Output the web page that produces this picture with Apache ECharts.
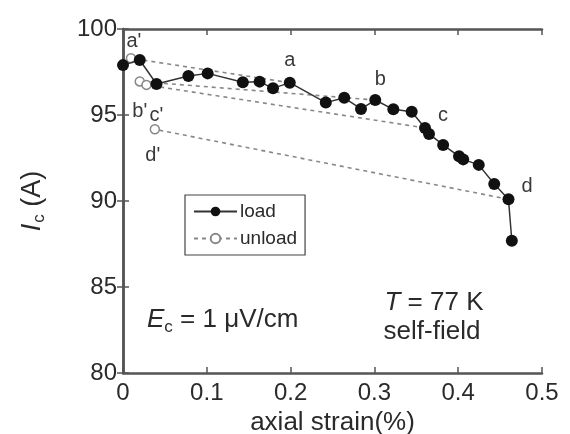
<!DOCTYPE html>
<html>
<head>
<meta charset="utf-8">
<script src="https://cdn.jsdelivr.net/npm/echarts@6/dist/echarts.min.js"></script>
<style>
  html, body { margin: 0; padding: 0; background: #fff; }
  #chart { width: 570px; height: 434px; }
</style>
</head>
<body>
<div id="chart"></div>
<script>
// Critical current under axial strain: loading curve and unloading steps
const loadStrain = [0, 0.020, 0.040, 0.078, 0.101, 0.143, 0.163, 0.179, 0.199, 0.242, 0.264, 0.284,
  0.301, 0.3226, 0.3445, 0.3604, 0.3652, 0.382, 0.401, 0.406, 0.4245, 0.443, 0.460, 0.464];
const loadIc = [97.9, 98.2, 96.8, 97.27, 97.42, 96.9, 96.94, 96.55, 96.88, 95.72, 96.0, 95.35,
  95.87, 95.33, 95.19, 94.25, 93.9, 93.26, 92.6, 92.42, 92.1, 90.99, 90.1, 87.69];

// Points on the loading curve where the strain was released (a, b, c, d)
const unloadStartIndex = [8, 12, 15, 22];
const startLabels = ['a', 'b', 'c', 'd'];
// Recovered values after release (a', b', c', d')
const unloadStrain = [0.0095, 0.020, 0.028, 0.038];
const unloadIc = [98.3, 96.95, 96.75, 94.17];
const unloadLabels = ["a'", "b'", "c'", "d'"];

const xTicks = [0, 0.1, 0.2, 0.3, 0.4, 0.5];
const yTicks = [80, 85, 90, 95, 100];

const AXIS = '#555';
const TEXT = '#2a2a2a';
const FONT = 'Liberation Sans, Arial, Helvetica, sans-serif';

// label placement for the a..d markers
const startLabelPos = [
  { position: 'top', offset: [0, -1] },
  { position: 'top', offset: [5, 0] },
  { position: 'right', offset: [2, -12] },
  { position: 'right', offset: [2, -13] }
];
const primeLabelPos = [
  { position: 'top', offset: [3, 3] },
  { position: 'bottom', offset: [0, 10] },
  { position: 'bottom', offset: [10, 10] },
  { position: 'bottom', offset: [-2, 6] }
];

const loadData = loadStrain.map((x, i) => {
  const k = unloadStartIndex.indexOf(i);
  const item = { value: [x, loadIc[i]] };
  if (k >= 0) {
    item.label = Object.assign({
      show: true, formatter: startLabels[k], fontSize: 20, color: '#3a3a3a', fontFamily: FONT
    }, startLabelPos[k]);
  }
  return item;
});

const unloadSeries = unloadStartIndex.map((idx, k) => ({
  name: 'unload',
  type: 'line',
  z: 2,
  symbol: 'circle',
  symbolSize: 9,
  showAllSymbol: true,
  itemStyle: { color: '#fff', borderColor: '#888', borderWidth: 1.5 },
  lineStyle: { color: '#888', width: 1.6, type: [4, 4] },
  emphasis: { disabled: true },
  data: [
    { value: [loadStrain[idx], loadIc[idx]], symbol: 'none' },
    {
      value: [unloadStrain[k], unloadIc[k]],
      label: Object.assign({
        show: true, formatter: unloadLabels[k], fontSize: 20, color: '#3a3a3a', fontFamily: FONT
      }, primeLabelPos[k])
    }
  ]
}));

const chart = echarts.init(document.getElementById('chart'), null, { renderer: 'canvas' });

const baseX = {
  type: 'value', min: xTicks[0], max: xTicks[xTicks.length - 1], interval: 0.1,
  splitLine: { show: false },
  axisLine: { show: true, lineStyle: { color: AXIS, width: 2.5 } },
  axisTick: { show: true, inside: true, length: 6, lineStyle: { color: AXIS, width: 1.5 } }
};
const baseY = {
  type: 'value', min: yTicks[0], max: yTicks[yTicks.length - 1], interval: 5,
  splitLine: { show: false },
  axisLine: { show: true, lineStyle: { color: AXIS, width: 2.5 } },
  axisTick: { show: true, inside: true, length: 6, lineStyle: { color: AXIS, width: 1.5 } }
};

chart.setOption({
  animation: false,
  backgroundColor: '#fff',
  textStyle: { fontFamily: FONT },
  grid: { left: 123, right: 28, top: 29, bottom: 61, containLabel: false, outerBoundsMode: 'none' },
  xAxis: [
    Object.assign({}, baseX, {
      position: 'bottom',
      name: 'axial strain(%)', nameLocation: 'middle', nameGap: 32,
      nameTextStyle: { fontSize: 26, color: TEXT, fontFamily: FONT },
      axisLabel: {
        fontSize: 24, color: TEXT, margin: 8, fontFamily: FONT,
        formatter: v => (v === 0 ? '0' : v.toFixed(1))
      }
    }),
    Object.assign({}, baseX, { position: 'top', axisLabel: { show: false } })
  ],
  yAxis: [
    Object.assign({}, baseY, {
      position: 'left',
      name: '{i|I}{s|c}{n| (A)}', nameLocation: 'middle', nameGap: 75, nameRotate: 90,
      nameTextStyle: {
        color: TEXT, fontFamily: FONT,
        rich: {
          i: { fontSize: 27, fontStyle: 'italic', color: TEXT, fontFamily: FONT },
          s: { fontSize: 17, color: TEXT, fontFamily: FONT, padding: [14, 0, 0, 1] },
          n: { fontSize: 27, color: TEXT, fontFamily: FONT }
        }
      },
      axisLabel: { fontSize: 24, color: TEXT, margin: 6, fontFamily: FONT }
    }),
    Object.assign({}, baseY, { position: 'right', axisLabel: { show: false } })
  ],
  legend: {
    orient: 'vertical',
    left: 185, top: 195,
    width: 122,
    padding: [7, 8, 7, 8],
    borderColor: '#444', borderWidth: 1.2,
    itemWidth: 43, itemHeight: 12, itemGap: 8,
    data: ['load', 'unload'],
    textStyle: { fontSize: 19, color: TEXT, fontFamily: FONT, padding: [0, 0, 0, -2] }
  },
  graphic: [
    {
      type: 'text', x: 147, y: 320,
      style: {
        text: '{i|E}{s|c}{n| = 1 μV/cm}',
        verticalAlign: 'middle', align: 'left',
        rich: {
          i: { fontSize: 26, fontStyle: 'italic', fill: TEXT, fontFamily: FONT },
          s: { fontSize: 17, fill: TEXT, fontFamily: FONT, padding: [14, 0, 0, 0] },
          n: { fontSize: 26, fill: TEXT, fontFamily: FONT }
        }
      }
    },
    {
      type: 'text', x: 434, y: 303,
      style: {
        text: '{i|T}{n| = 77 K}',
        verticalAlign: 'middle', align: 'center',
        rich: {
          i: { fontSize: 26, fontStyle: 'italic', fill: TEXT, fontFamily: FONT },
          n: { fontSize: 26, fill: TEXT, fontFamily: FONT }
        }
      }
    },
    {
      type: 'text', x: 432, y: 332,
      style: {
        text: 'self-field', fontSize: 26, fill: TEXT, fontFamily: FONT,
        verticalAlign: 'middle', align: 'center'
      }
    }
  ],
  series: [
    {
      name: 'load',
      type: 'line',
      z: 5,
      symbol: 'circle',
      symbolSize: 12,
      showAllSymbol: true,
      itemStyle: { color: '#111' },
      lineStyle: { color: '#333', width: 1.5 },
      emphasis: { disabled: true },
      data: loadData
    }
  ].concat(unloadSeries)
});
</script>
</body>
</html>
